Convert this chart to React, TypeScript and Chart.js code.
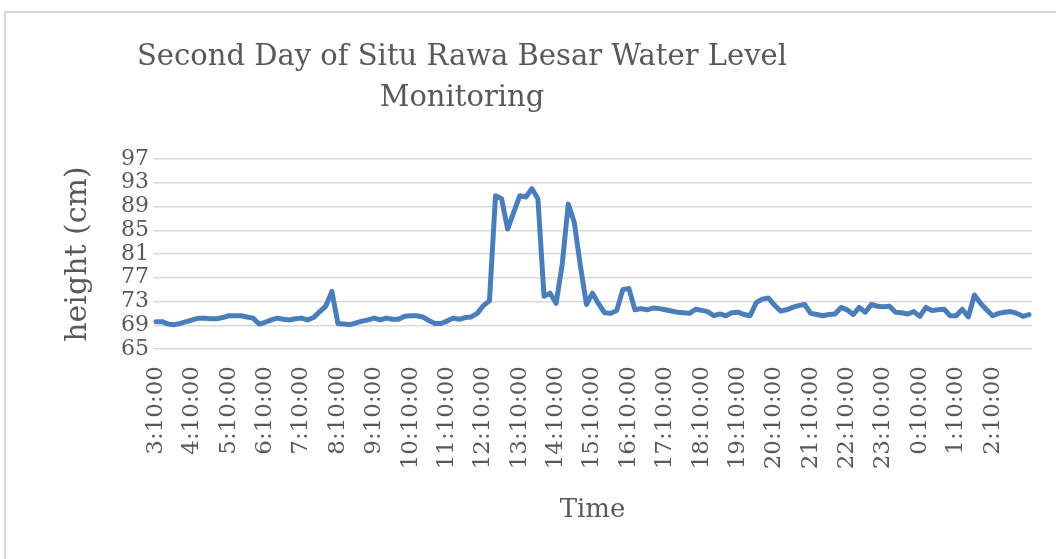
import React, { useEffect, useRef } from 'react';
import { Chart, registerables } from 'chart.js';

Chart.register(...registerables);

const TITLE_LINES = ['Second Day of Situ Rawa Besar Water Level', 'Monitoring'];
const Y_TITLE = 'height (cm)';
const X_TITLE = 'Time';
const Y_MIN = 65;
const Y_MAX = 97;
const Y_STEP = 4;
const LABEL_EVERY = 6;
const START_HOUR = 3;
const START_MIN = 10;
const STEP_MIN = 10;

// hour labels shown under the axis (one every 6 readings)
const TICK_LABELS = [
  '3:10:00', '4:10:00', '5:10:00', '6:10:00', '7:10:00', '8:10:00',
  '9:10:00', '10:10:00', '11:10:00', '12:10:00', '13:10:00', '14:10:00',
  '15:10:00', '16:10:00', '17:10:00', '18:10:00', '19:10:00', '20:10:00',
  '21:10:00', '22:10:00', '23:10:00', '0:10:00', '1:10:00', '2:10:00',
];

// water level (cm), one reading every 10 minutes from 3:10:00 to 3:10:00 next day
const waterLevel = [
  69.6, 69.6, 69.2, 69.1, 69.3, 69.6, 69.9, 70.2, 70.2, 70.1,
  70.1, 70.3, 70.6, 70.6, 70.6, 70.4, 70.2, 69.2, 69.5, 69.9,
  70.2, 70.0, 69.9, 70.1, 70.2, 69.9, 70.3, 71.3, 72.2, 74.7,
  69.3, 69.2, 69.1, 69.4, 69.7, 69.9, 70.2, 69.9, 70.2, 70.0,
  70.0, 70.5, 70.6, 70.6, 70.4, 69.8, 69.3, 69.3, 69.7, 70.2,
  70.0, 70.3, 70.4, 71.0, 72.3, 73.1, 90.8, 90.3, 85.2, 88.0,
  90.8, 90.6, 92.0, 90.3, 73.9, 74.4, 72.7, 79.2, 89.4, 86.3,
  79.0, 72.5, 74.4, 72.6, 71.1, 71.0, 71.5, 75.0, 75.2, 71.6,
  71.8, 71.6, 71.9, 71.8, 71.6, 71.4, 71.2, 71.1, 71.0, 71.7,
  71.5, 71.3, 70.6, 70.9, 70.6, 71.1, 71.2, 70.8, 70.6, 72.8,
  73.4, 73.6, 72.4, 71.4, 71.6, 72.0, 72.3, 72.5, 71.0, 70.8,
  70.6, 70.8, 70.9, 72.0, 71.6, 70.8, 72.0, 71.2, 72.5, 72.2,
  72.1, 72.2, 71.2, 71.1, 70.9, 71.3, 70.5, 72.0, 71.5, 71.6,
  71.7, 70.6, 70.6, 71.7, 70.4, 74.1, 72.7, 71.6, 70.6, 71.0,
  71.2, 71.3, 71.0, 70.5, 70.8,
];

const categories: string[] = waterLevel.map((_, i) => {
  const total = START_HOUR * 60 + START_MIN + i * STEP_MIN;
  const h = Math.floor(total / 60) % 24;
  const m = total % 60;
  return `${h}:${m < 10 ? '0' + m : m}:00`;
});

const TEXT_COLOR = '#595959';
const GRID_COLOR = '#d9d9d9';
const LINE_COLOR = '#4a7ebb';
const FONT = '"DejaVu Serif", serif';

const titlePlugin = {
  id: 'excelTitle',
  afterDraw(chart: any) {
    const ctx = chart.ctx;
    ctx.save();
    ctx.font = `29px ${FONT}`;
    ctx.fillStyle = TEXT_COLOR;
    ctx.textAlign = 'center';
    ctx.textBaseline = 'middle';
    ctx.fillText(TITLE_LINES[0], 462, 57);
    ctx.fillText(TITLE_LINES[1], 462, 98);
    ctx.restore();
  },
};

export default function App() {
  const canvasRef = useRef<HTMLCanvasElement | null>(null);

  useEffect(() => {
    const canvas = canvasRef.current;
    if (!canvas) return;
    const chart = new Chart(canvas, {
      type: 'line',
      data: {
        labels: categories,
        datasets: [
          {
            label: 'height',
            data: waterLevel,
            borderColor: LINE_COLOR,
            backgroundColor: LINE_COLOR,
            borderWidth: 5,
            pointRadius: 0,
            tension: 0,
            borderJoinStyle: 'round',
            borderCapStyle: 'round',
          },
        ],
      },
      options: {
        responsive: false,
        animation: false,
        layout: { padding: { left: 40, right: 24, top: 159, bottom: 10 } },
        plugins: {
          legend: { display: false },
          tooltip: { enabled: false },
          title: { display: false },
        },
        scales: {
          x: {
            type: 'category',
            offset: true,
            grid: { display: false, drawTicks: false, offset: true },
            border: { display: false },
            ticks: {
              autoSkip: false,
              maxRotation: 90,
              minRotation: 90,
              padding: 17,
              color: TEXT_COLOR,
              font: { family: FONT, size: 23 },
              callback: (_v: any, idx: number) => {
                const k = idx / LABEL_EVERY;
                return Number.isInteger(k) && k < TICK_LABELS.length ? TICK_LABELS[k] : '';
              },
            },
            title: {
              display: true,
              text: X_TITLE,
              color: TEXT_COLOR,
              font: { family: FONT, size: 26, lineHeight: 1.2 },
              padding: { top: 0, bottom: 23 },
            },
            afterFit: (axis: any) => {
              axis.height = 200;
              axis.paddingLeft = 0;
              axis.paddingRight = 0;
            },
          },
          y: {
            min: Y_MIN,
            max: Y_MAX,
            grid: { color: GRID_COLOR, lineWidth: 1.5, drawTicks: false },
            border: { display: false },
            ticks: {
              stepSize: Y_STEP,
              autoSkip: false,
              padding: 4,
              color: TEXT_COLOR,
              font: { family: FONT, size: 22 },
            },
            title: {
              display: true,
              text: Y_TITLE,
              color: TEXT_COLOR,
              font: { family: FONT, size: 30, lineHeight: 1.2 },
              padding: { top: 20, bottom: 0 },
            },
            afterFit: (axis: any) => {
              axis.width = 113;
            },
          },
        },
      },
      plugins: [titlePlugin],
    });
    return () => chart.destroy();
  }, []);

  return (
    <div style={{ position: 'fixed', left: 0, top: 0, width: 1056, height: 559, background: '#fff', overflow: 'hidden' }}>
      <div
        style={{
          position: 'absolute',
          left: 4,
          top: 11,
          width: 1060,
          height: 560,
          borderTop: `2px solid ${GRID_COLOR}`,
          borderLeft: `2px solid ${GRID_COLOR}`,
          boxSizing: 'border-box',
        }}
      />
      <canvas ref={canvasRef} width={1056} height={559} style={{ position: 'absolute', left: 0, top: 0, width: 1056, height: 559 }} />
    </div>
  );
}
